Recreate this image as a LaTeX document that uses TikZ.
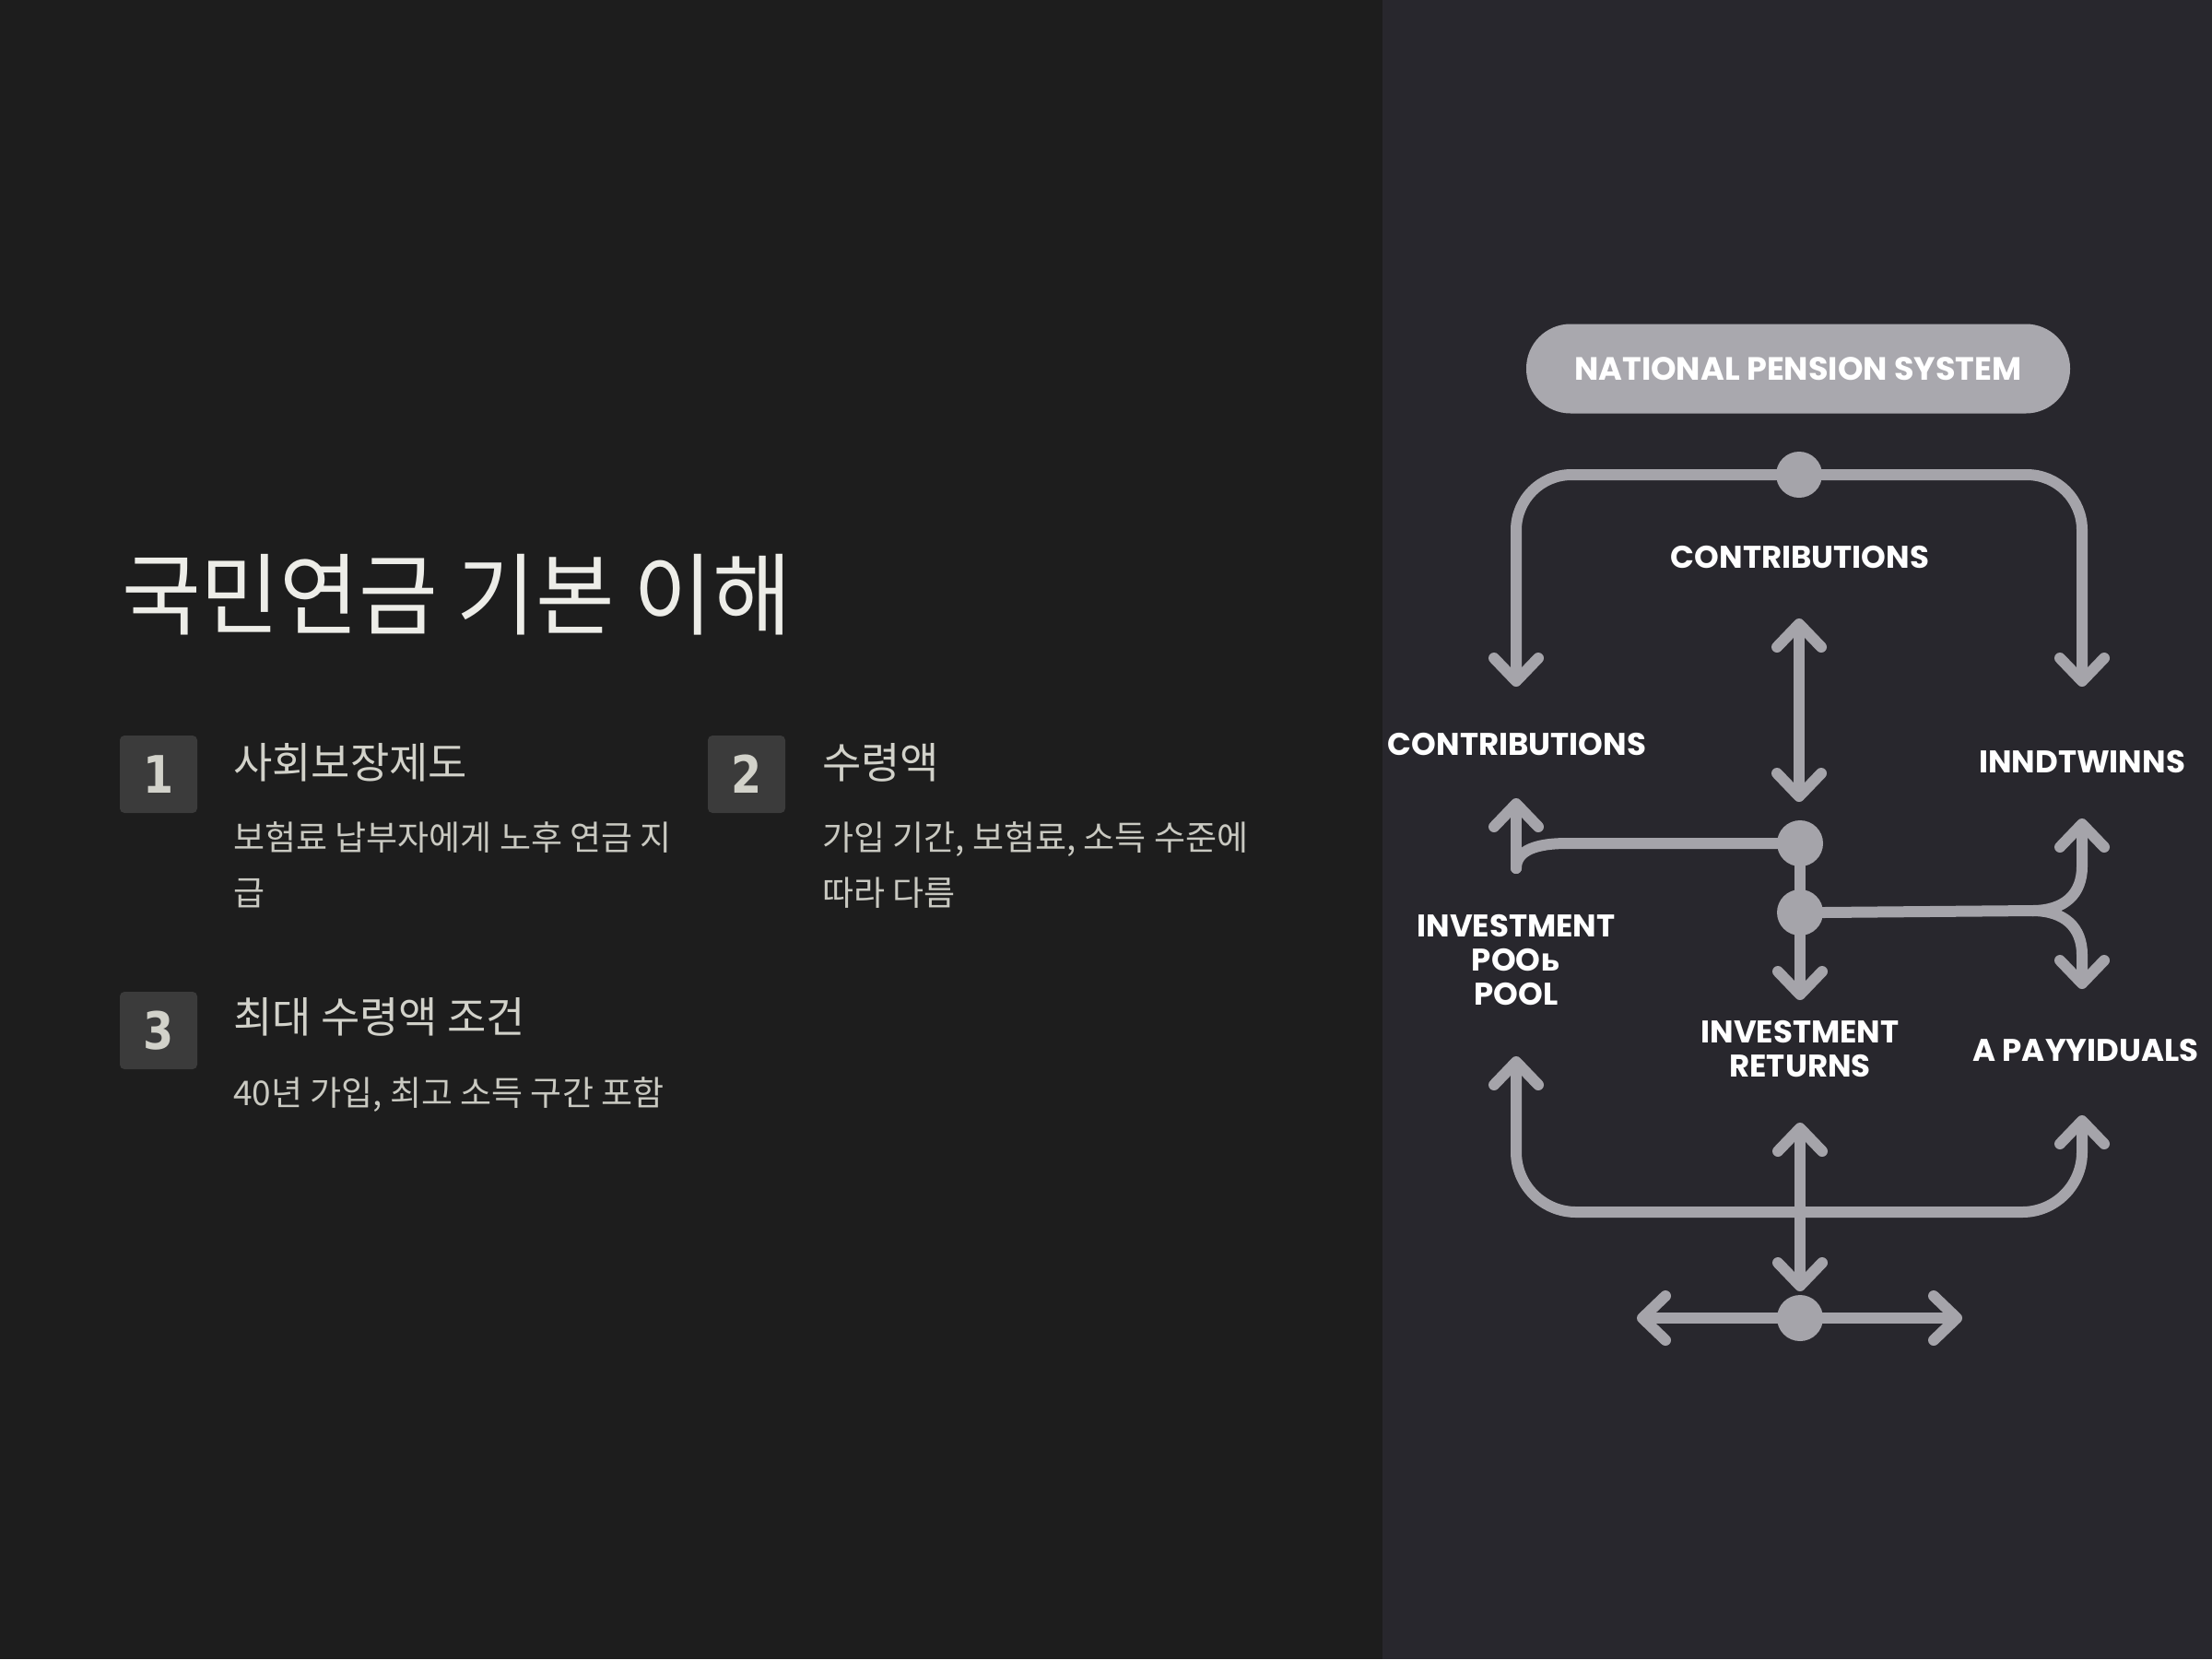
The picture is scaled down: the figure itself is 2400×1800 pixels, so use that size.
\documentclass[tikz,border=0pt]{standalone}
\usepackage{fontspec}
\usetikzlibrary{arrows.meta}
\newfontfamily\krtitle{Noto Sans CJK KR}[FakeStretch=0.96]
\newfontfamily\krtext{Noto Sans CJK KR}
\newfontfamily\numfont{DejaVu Sans}[FakeStretch=0.85]
\newfontfamily\diagfont{Poppins}
\newfontfamily\cyrfont{DejaVu Sans}
\definecolor{leftbg}{HTML}{1D1D1D}
\definecolor{rightbg}{HTML}{28272D}
\definecolor{titlec}{HTML}{EDEDE8}
\definecolor{headc}{HTML}{D2D2CA}
\definecolor{bodyc}{HTML}{C9C9C1}
\definecolor{boxc}{HTML}{3B3B3B}
\definecolor{linec}{HTML}{A5A4AA}
\definecolor{pillc}{HTML}{A9A8AE}
\tikzset{
  x=1pt, y=-1pt,
  titletext/.style={anchor=base west, inner sep=0pt, text=titlec, font=\krtitle\fontsize{97}{110}\selectfont},
  headtext/.style={anchor=base west, inner sep=0pt, text=headc, font=\krtext\fontsize{46}{54}\selectfont},
  bodytext/.style={anchor=base west, inner sep=0pt, text=bodyc, font=\krtext\fontsize{37}{44}\selectfont},
  numbox/.style={fill=boxc, rounded corners=5pt, minimum size=84pt, inner sep=0pt, text=headc, font=\numfont\bfseries\fontsize{56}{60}\selectfont},
  conn/.style={draw=linec, line width=12pt, line cap=round, line join=round},
  >={Straight Barb[length=25pt,width=48pt,round]},
  dot/.style={circle, fill=linec, minimum size=50pt, inner sep=0pt},
  pill/.style={fill=pillc, rounded corners=48pt, minimum width=590pt, minimum height=97pt, inner sep=0pt, text=white, font=\diagfont\bfseries\fontsize{35}{40}\selectfont},
  lbl/.style={text=white, inner sep=0pt, align=center, font=\diagfont\bfseries\fontsize{34}{37}\selectfont},
}
\begin{document}
\begin{tikzpicture}
\useasboundingbox (0,0) rectangle (2400,1800);
\fill[leftbg] (0,0) rectangle (1500,1800);
\fill[rightbg] (1500,0) rectangle (2400,1800);

% ---- left panel ----
\node[titletext] (title) at (132,681) {국민연금 기본 이해};

\node[numbox] (b1) at (172,840) {1};
\node[headtext] (h1) at (253,844) {사회보장제도};
\node[bodytext] (t1a) at (253,922) {보험료 납부자에게 노후 연금 지};
\node[bodytext] (t1b) at (253,982) {급};

\node[numbox] (b2) at (810,840) {2};
\node[headtext] (h2) at (892,844) {수령액};
\node[bodytext] (t2a) at (892,922) {가입 기간, 보험료, 소득 수준에};
\node[bodytext] (t2b) at (892,982) {따라 다름};

\node[numbox] (b3) at (172,1118) {3};
\node[headtext] (h3) at (253,1120) {최대 수령액 조건};
\node[bodytext] (t3a) at (253,1199) {40년 가입, 최고 소득 구간 포함};

% ---- right panel diagram ----
\node[pill] (nps) at (1951,400) {NATIONAL PENSION SYSTEM};

\coordinate (tl) at (1645,745);
\coordinate (tr) at (2259,745);
\coordinate (ca1) at (1952,671);
\coordinate (ca2) at (1952,870);
\coordinate (hookL) at (1645,942);
\coordinate (hookS) at (1700,915);
\coordinate (cl) at (1645,866);
\coordinate (split) at (2205,988);
\coordinate (upc) at (2259,940);
\coordinate (ur) at (2259,888);
\coordinate (dnc) at (2259,1036);
\coordinate (dr) at (2259,1073);
\coordinate (rd) at (1953,1085);
\coordinate (bl) at (1645,1146);
\coordinate (blc) at (1645,1315);
\coordinate (brc) at (2259,1315);
\coordinate (br) at (2259,1210);
\coordinate (va1) at (1953,1218);
\coordinate (va2) at (1953,1401);
\coordinate (hl) at (1776,1430);
\coordinate (hr) at (2129,1430);

\node[dot] (d1) at (1952,515) {};
\node[dot] (d2) at (1953,915) {};
\node[dot] (d3) at (1953,990) {};

% top branches
\draw[conn,->,rounded corners=60pt] (d1.west) -| (tl);
\draw[conn,->,rounded corners=60pt] (d1.east) -| (tr);
% central double arrow
\draw[conn,<->] (ca1) -- (ca2);
% left hook
\draw[conn] (d2.west) -- (hookS) .. controls (1668,915) and (1645,922) .. (hookL);
\draw[conn,->] (hookL) -- (cl);
% between dots
\draw[conn] (d2) -- (d3);
% down from d3
\draw[conn,->] (d3.south) -- (rd);
% right split
\draw[conn] (d3.east) -- (split);
\draw[conn,->] (split) .. controls (2240,988) and (2259,970) .. (upc) -- (ur);
\draw[conn,->] (split) .. controls (2240,988) and (2259,1006) .. (dnc) -- (dr);
% bottom U
\draw[conn,<->,rounded corners=65pt] (bl) -- (blc) -- (brc) -- (br);
% bottom vertical double arrow
\draw[conn,<->] (va1) -- (va2);
% horizontal double arrow
\draw[conn,<->] (hl) -- (hr);
\node[dot] (d4) at (1953,1430) {};

% labels
\node[lbl] (lc1) at (1953,605) {CONTRIBUTIONS};
\node[lbl] (lc2) at (1646,807) {CONTRIBUTIONS};
\node[lbl] (lin) at (2259,826) {INNDTWINNS};
\node[lbl, anchor=north] (lip) at (1645,992) {INVESTMENT\\[0pt]POO{\cyrfont ь}\\[0pt]POOL};
\node[lbl, anchor=north] (lir) at (1953,1107) {INVESTMENT\\[0pt]RETURNS};
\node[lbl] (lpa) at (2263,1139) {A PAYYIDUALS};
\end{tikzpicture}
\end{document}
